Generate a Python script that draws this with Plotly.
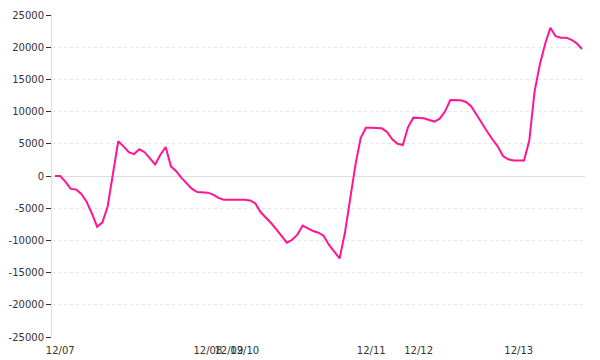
import plotly.graph_objects as go

values = [
    0, 0, -900, -2000, -2100, -2800, -4000, -5800, -7900, -7200,
    -4700, 500, 5400, 4600, 3700, 3400, 4150, 3700, 2800, 1800,
    3300, 4500, 1500, 750, -300, -1200, -2000, -2500, -2550, -2590,
    -2900, -3400, -3680, -3680, -3680, -3680, -3680, -3800, -4250, -5600,
    -6400, -7300, -8300, -9300, -10350, -9900, -9100, -7700, -8150, -8550,
    -8800, -9300, -10700, -11800, -12800, -8900, -3460, 1700, 5900, 7500,
    7500, 7500, 7400, 6850, 5700, 5000, 4810, 7600, 9060, 9000,
    8950, 8700, 8450, 8900, 10000, 11800, 11800, 11750, 11500, 10800,
    9500, 8100, 6900, 5700, 4600, 3100, 2600, 2400, 2400, 2400,
    5500, 13100, 17300, 20500, 23000, 21700, 21480, 21480, 21150, 20600,
    19720,
]
index = list(range(len(values)))

tick_index = [1, 29, 33, 36, 60, 69, 88]
tick_labels = ["12/07", "12/08", "12/09", "12/10", "12/11", "12/12", "12/13"]

y_ticks = [25000, 20000, 15000, 10000, 5000, 0, -5000, -10000, -15000, -20000, -25000]
y_labels = [str(v) for v in y_ticks]

fig = go.Figure()
fig.add_trace(go.Scatter(
    x=index, y=values, mode="lines",
    line=dict(color="#ff1493", width=2),
    hoverinfo="skip",
))

fig.update_layout(
    width=600, height=360,
    margin=dict(l=52, r=15, t=15, b=23),
    paper_bgcolor="white", plot_bgcolor="white",
    showlegend=False,
    font=dict(family="DejaVu Sans", size=10, color="#333333"),
)
fig.update_xaxes(
    range=[-0.57, 100.57], automargin=False,
    tickmode="array", tickvals=tick_index, ticktext=tick_labels,
    tickangle=0,
    showgrid=False, zeroline=False, showline=False,
    ticks="", ticklen=0, ticklabelstandoff=6,
    tickfont=dict(family="DejaVu Sans", size=10, color="#333333"),
)
fig.update_yaxes(
    range=[-25000, 25000], automargin=False,
    tickmode="array", tickvals=y_ticks, ticktext=y_labels,
    showgrid=True, gridcolor="#e6e6e6", griddash="3px,3px", gridwidth=1,
    zeroline=True, zerolinecolor="#dddddd", zerolinewidth=1,
    showline=True, linecolor="#dddddd", linewidth=1,
    ticks="outside", ticklen=5, tickcolor="#333333", tickwidth=1,
    tickfont=dict(family="DejaVu Sans", size=10, color="#333333"),
)

fig.write_html("out.html")
